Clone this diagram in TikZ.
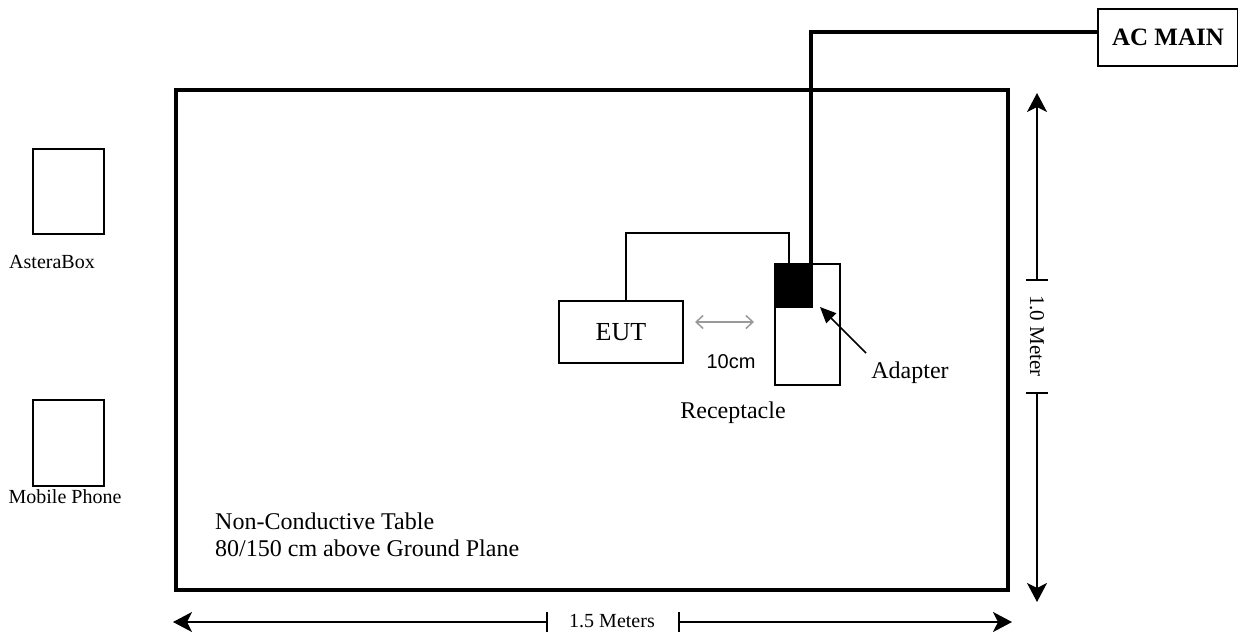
\documentclass[tikz,border=0pt]{standalone}
\usepackage{fontspec}
\setmainfont{Liberation Serif}
\newfontfamily\arialfont{Liberation Sans}
\usetikzlibrary{arrows.meta}
\tikzset{
  boxshape/.style={draw, line width=2pt, inner sep=0pt},
  lbl/.style={font=\fontsize{24}{27}\selectfont, inner sep=0pt},
  small/.style={font=\fontsize{20}{23}\selectfont, inner sep=0pt},
  cable/.style={line width=3.2pt},
  wire/.style={line width=1.5pt},
  dimline/.style={line width=1.5pt},
  bigtip/.style={-{Stealth[length=19pt,width=20pt,inset=5pt]}},
}
\begin{document}
\begin{tikzpicture}[x=1pt,y=-1pt]
\useasboundingbox (0,0) rectangle (1238,632);
% table
\node[boxshape, line width=3.5pt, minimum width=832pt, minimum height=500pt, anchor=north west] (table) at (174,88) {};
% AC MAIN
\node[boxshape, minimum width=140pt, minimum height=57pt, anchor=north west, font=\fontsize{25}{28}\selectfont\bfseries] (ac) at (1097,8) {AC MAIN};
% receptacle
\node[boxshape, minimum width=65pt, minimum height=121pt, anchor=north west] (rec) at (774,263) {};
\node[fill=black, draw=black, line width=1pt, minimum width=38pt, minimum height=44pt, inner sep=0pt, anchor=north west] (adp) at (774,263) {};
% EUT
\node[boxshape, minimum width=124pt, minimum height=62pt, anchor=north west, font=\fontsize{26}{29}\selectfont] (eut) at (558,300) {EUT};
% cables
\coordinate (c1) at (811,32);
\draw[cable] (ac.west |- c1) -- (c1) -- (c1 |- adp.north);
\coordinate (w1) at (626,233);
\coordinate (w2) at (789,233);
\draw[wire] (eut.north -| w1) -- (w1) -- (w2) -- (w2 |- rec.north);
% 10cm
\coordinate (g1) at (695,322);
\coordinate (g2) at (754,322);
\draw[gray!80, line width=1.5pt, {Straight Barb[length=7pt,width=13pt]}-{Straight Barb[length=7pt,width=13pt]}] (g1) -- (g2);
\node[font=\arialfont\fontsize{20}{23}\selectfont, inner sep=0pt, anchor=base] (tencm) at (731,368) {10cm};
\node[lbl, anchor=base] (reclbl) at (733,418) {Receptacle};
% adapter arrow
\node[lbl, anchor=base] (adplbl) at (910,378) {Adapter};
\coordinate (a1) at (866,353);
\coordinate (a2) at (820,307);
\draw[line width=1.5pt, -{Triangle[length=16pt,width=14pt]}] (a1) -- (a2);
% side boxes
\node[boxshape, minimum width=71pt, minimum height=85pt, anchor=north west] (astera) at (32,148) {};
\node[small, anchor=base] (asteralbl) at (52,268) {AsteraBox};
\node[boxshape, minimum width=71pt, minimum height=86pt, anchor=north west] (phone) at (32,399) {};
\node[small, anchor=base] (phonelbl) at (65,503) {Mobile Phone};
% table text
\node[lbl, anchor=base west] (tabtxt1) at (215,529) {Non-Conductive Table};
\node[lbl, anchor=base west] (tabtxt2) at (215,556) {80/150 cm above Ground Plane};
% vertical dimension
\coordinate (vt) at (1037,93);
\coordinate (vb) at (1037,602);
\coordinate (vm1) at (1037,280);
\coordinate (vm2) at (1037,393);
\draw[dimline, bigtip] (vm1) -- (vt);
\draw[dimline, bigtip] (vm2) -- (vb);
\draw[dimline] ([xshift=-11pt]vm1) -- ([xshift=11pt]vm1);
\draw[dimline] ([xshift=-11pt]vm2) -- ([xshift=11pt]vm2);
\node[font=\fontsize{21}{24}\selectfont, inner sep=0pt, rotate=-90] (vlbl) at (1037,336) {1.0 Meter};
% horizontal dimension
\coordinate (hl) at (173,622);
\coordinate (hr) at (1012,622);
\coordinate (hm1) at (547,622);
\coordinate (hm2) at (679,622);
\draw[dimline, bigtip] (hm1) -- (hl);
\draw[dimline, bigtip] (hm2) -- (hr);
\draw[dimline] ([yshift=-10pt]hm1) -- ([yshift=10pt]hm1);
\draw[dimline] ([yshift=-10pt]hm2) -- ([yshift=10pt]hm2);
\node[small, anchor=base] (hlbl) at (612,627) {1.5 Meters};
\end{tikzpicture}
\end{document}
